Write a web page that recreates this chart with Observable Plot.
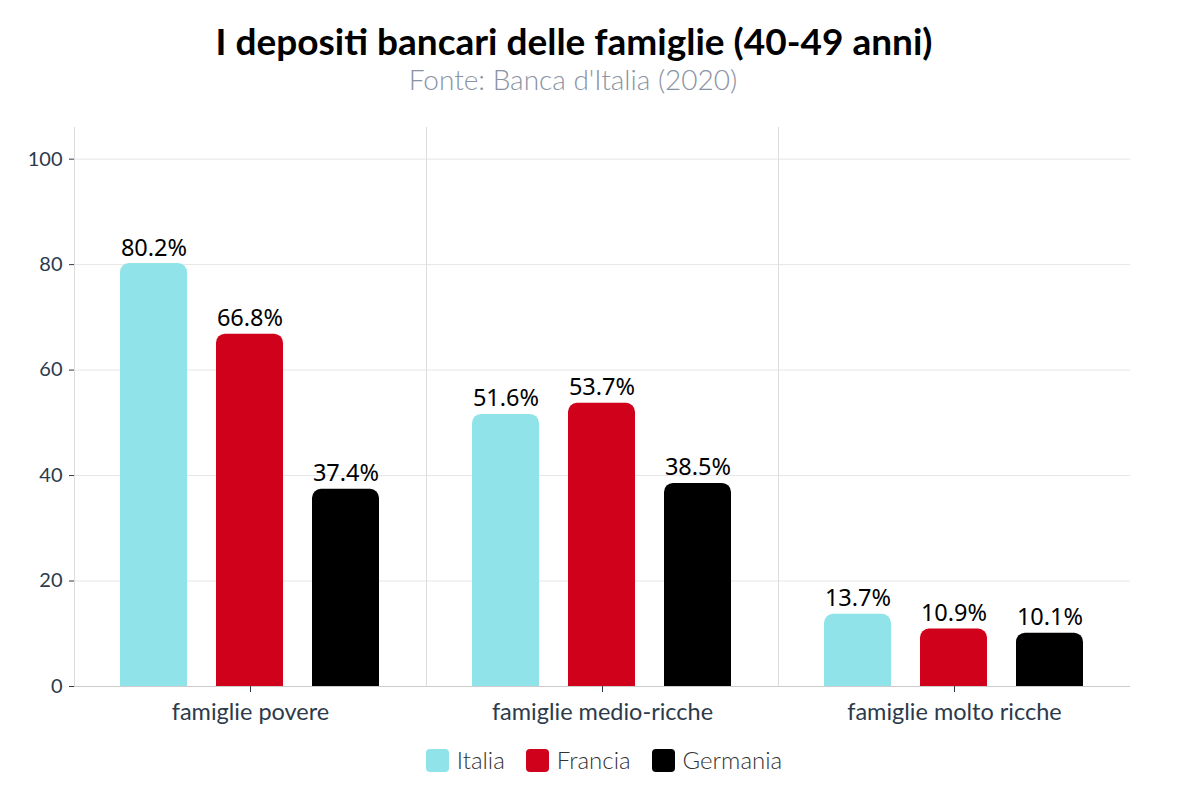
<!DOCTYPE html>
<html><head><meta charset="utf-8">
<script src="https://cdn.jsdelivr.net/npm/d3@7"></script>
<script src="https://cdn.jsdelivr.net/npm/@observablehq/plot@0.6"></script>
<style>
body{margin:0;background:#fff;width:1178px;height:785px;position:relative;overflow:hidden;font-family:Lato,sans-serif}
#title{position:absolute;left:0;width:1148px;top:16px;text-align:center;font-weight:700;font-size:37px;color:#000;line-height:50px}
#subtitle{position:absolute;left:0;width:1146px;top:62px;text-align:center;font-weight:300;font-size:28px;color:#8a93a5;line-height:34px}
#chart{position:absolute;left:0;top:100px}
#legend{position:absolute;left:75px;width:1058px;top:745px;display:flex;justify-content:center;gap:21px;font-size:24px;font-weight:300;color:#333}
#legend .item{display:flex;align-items:center;gap:8px;line-height:30px}
#legend .sw{width:23px;height:23px;border-radius:4px;display:inline-block}
</style></head>
<body>
<div id="title">I depositi bancari delle famiglie (40-49 anni)</div>
<div id="subtitle">Fonte: Banca d'Italia (2020)</div>
<div id="chart"></div>
<div id="legend"></div>
<script>
const groups = ["famiglie povere", "famiglie medio-ricche", "famiglie molto ricche"];
const countries = ["Italia", "Francia", "Germania"];
const italia = [80.2, 51.6, 13.7];
const francia = [66.8, 53.7, 10.9];
const germania = [37.4, 38.5, 10.1];
const colors = ["#90e3e8", "#d0021b", "#000000"];
const yTicks = [0, 20, 40, 60, 80, 100];

const series = [italia, francia, germania];
const data = [];
groups.forEach((g, i) => countries.forEach((c, j) => data.push({group: g, country: c, value: series[j][i]})));

const chart = Plot.plot({
  width: 1178, height: 640,
  marginTop: 27, marginLeft: 73, marginRight: 47, marginBottom: 54,
  style: {fontFamily: "Lato, sans-serif", background: "transparent", overflow: "visible"},
  fx: {domain: groups, padding: 0, label: null, axis: null},
  x: {domain: countries, axis: null, paddingInner: 0.3, paddingOuter: 0.48},
  y: {domain: [0, 106], axis: null},
  color: {domain: countries, range: colors},
  marks: [
    Plot.gridY({ticks: yTicks, stroke: "#e6e6e6", strokeOpacity: 1}),
    Plot.frame({anchor: "left", stroke: "#dcdcdc", strokeOpacity: 1}),
    Plot.ruleY([0], {stroke: "#cccccc"}),
    Plot.barY(data, {fx: "group", x: "country", y: "value", fill: "country", rx: 9}),
    Plot.barY(data, {fx: "group", x: "country", y: "value", fill: "country", insetTop: 12}),
    Plot.text(data, {fx: "group", x: "country", y: "value", text: d => d.value.toFixed(1) + "%",
      lineAnchor: "bottom", dy: -8, fontSize: 23.5, fontFamily: "Noto Sans", fill: "#000"}),
    Plot.axisY({ticks: yTicks, tickSize: 5, tickPadding: 7, fontSize: 20, color: "#2c3a4b", label: null, line: true}),
    Plot.axisFx({anchor: "bottom", tickSize: 6, tickPadding: 11, fontSize: 23.5, color: "#2c3a4b", label: null})
  ]
});
document.getElementById("chart").appendChild(chart);

const legend = document.getElementById("legend");
countries.forEach((c, i) => {
  const it = document.createElement("div");
  it.className = "item";
  it.innerHTML = `<span class="sw" style="background:${colors[i]}"></span><span>${c}</span>`;
  legend.appendChild(it);
});
</script>
</body></html>
